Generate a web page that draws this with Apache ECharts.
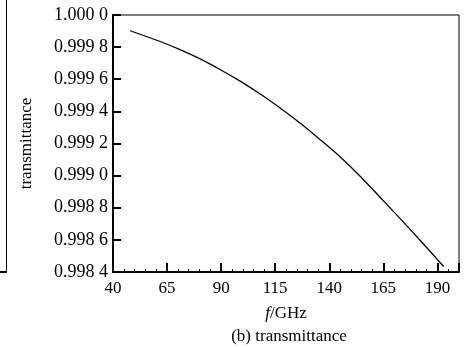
<!DOCTYPE html>
<html>
<head>
<meta charset="utf-8">
<script src="https://cdn.jsdelivr.net/npm/echarts@6/dist/echarts.min.js"></script>
<style>
html, body { margin: 0; padding: 0; background: #fff; }
#chart { width: 464px; height: 347px; }
</style>
</head>
<body>
<div id="chart"></div>
<script>
// frequency (GHz) and transmittance
var freq = [47.9, 61.8, 71.0, 80.3, 89.5, 98.8, 108.1, 117.3, 126.6, 135.8, 145.1, 154.4, 163.6, 172.9, 182.1, 192.9];
var trans = [0.999902, 0.999835, 0.999785, 0.999727, 0.999661, 0.999588, 0.999508, 0.999421, 0.999326, 0.999224, 0.999116, 0.998995, 0.998864, 0.998731, 0.998596, 0.998434];
var xTicks = [40, 65, 90, 115, 140, 165, 190];

var font = "Liberation Serif";
var dom = document.getElementById("chart");
var myChart = echarts.init(dom);

var points = [];
for (var i = 0; i < freq.length; i++) {
    points.push([freq[i], trans[i]]);
}

option = {
    backgroundColor: "#fff",
    animation: false,
    textStyle: { fontFamily: font, color: "#000" },
    title: {
        text: "(b) transmittance",
        left: 284,
        top: 323,
        textAlign: "center",
        textStyle: { fontFamily: font, fontSize: 17, fontWeight: "normal", color: "#000" }
    },
    grid: {
        left: 113,
        right: 5,
        top: 15,
        bottom: 75,
        show: true,
        borderColor: "#000",
        borderWidth: 1
    },
    xAxis: {
        type: "value",
        min: 40,
        max: 200,
        interval: 25,
        name: "{i|f}/GHz",
        nameLocation: "middle",
        nameGap: 33,
        nameTextStyle: {
            fontFamily: font, fontSize: 17, color: "#000",
            rich: { i: { fontFamily: font, fontSize: 17, fontStyle: "italic", color: "#000" } }
        },
        axisLine: { lineStyle: { color: "#000", width: 2 } },
        axisTick: { inside: true, length: 9, lineStyle: { color: "#000", width: 2 } },
        minorTick: { show: true, splitNumber: 5, length: 3, lineStyle: { color: "#000", width: 1 } },
        axisLabel: {
            fontFamily: font, fontSize: 17, color: "#000", margin: 8,
            formatter: function (v) { return xTicks.indexOf(v) >= 0 ? String(v) : ""; }
        },
        splitLine: { show: false }
    },
    yAxis: {
        type: "value",
        min: 0.9984,
        max: 1.0,
        interval: 0.0002,
        name: "transmittance",
        nameLocation: "middle",
        nameGap: 78,
        nameTextStyle: { fontFamily: font, fontSize: 17, color: "#000" },
        axisLine: { lineStyle: { color: "#000", width: 2 } },
        axisTick: { inside: true, length: 8, lineStyle: { color: "#000", width: 2 } },
        axisLabel: {
            fontFamily: font, fontSize: 18, color: "#000", margin: 5,
            formatter: function (v) {
                var s = v.toFixed(4);
                return s.slice(0, 5) + " " + s.slice(5);
            }
        },
        splitLine: { show: false }
    },
    graphic: [
        { type: "line", shape: { x1: 6.5, y1: 0, x2: 6.5, y2: 272 }, style: { stroke: "#000", lineWidth: 1 } },
        { type: "line", shape: { x1: 0, y1: 272, x2: 7, y2: 272 }, style: { stroke: "#000", lineWidth: 2 } }
    ],
    series: [{
        type: "line",
        data: points,
        smooth: 0.3,
        showSymbol: false,
        lineStyle: { color: "#000", width: 1.3 }
    }]
};
if (option && typeof option === "object") {
    myChart.setOption(option, true);
}
</script>
</body>
</html>
